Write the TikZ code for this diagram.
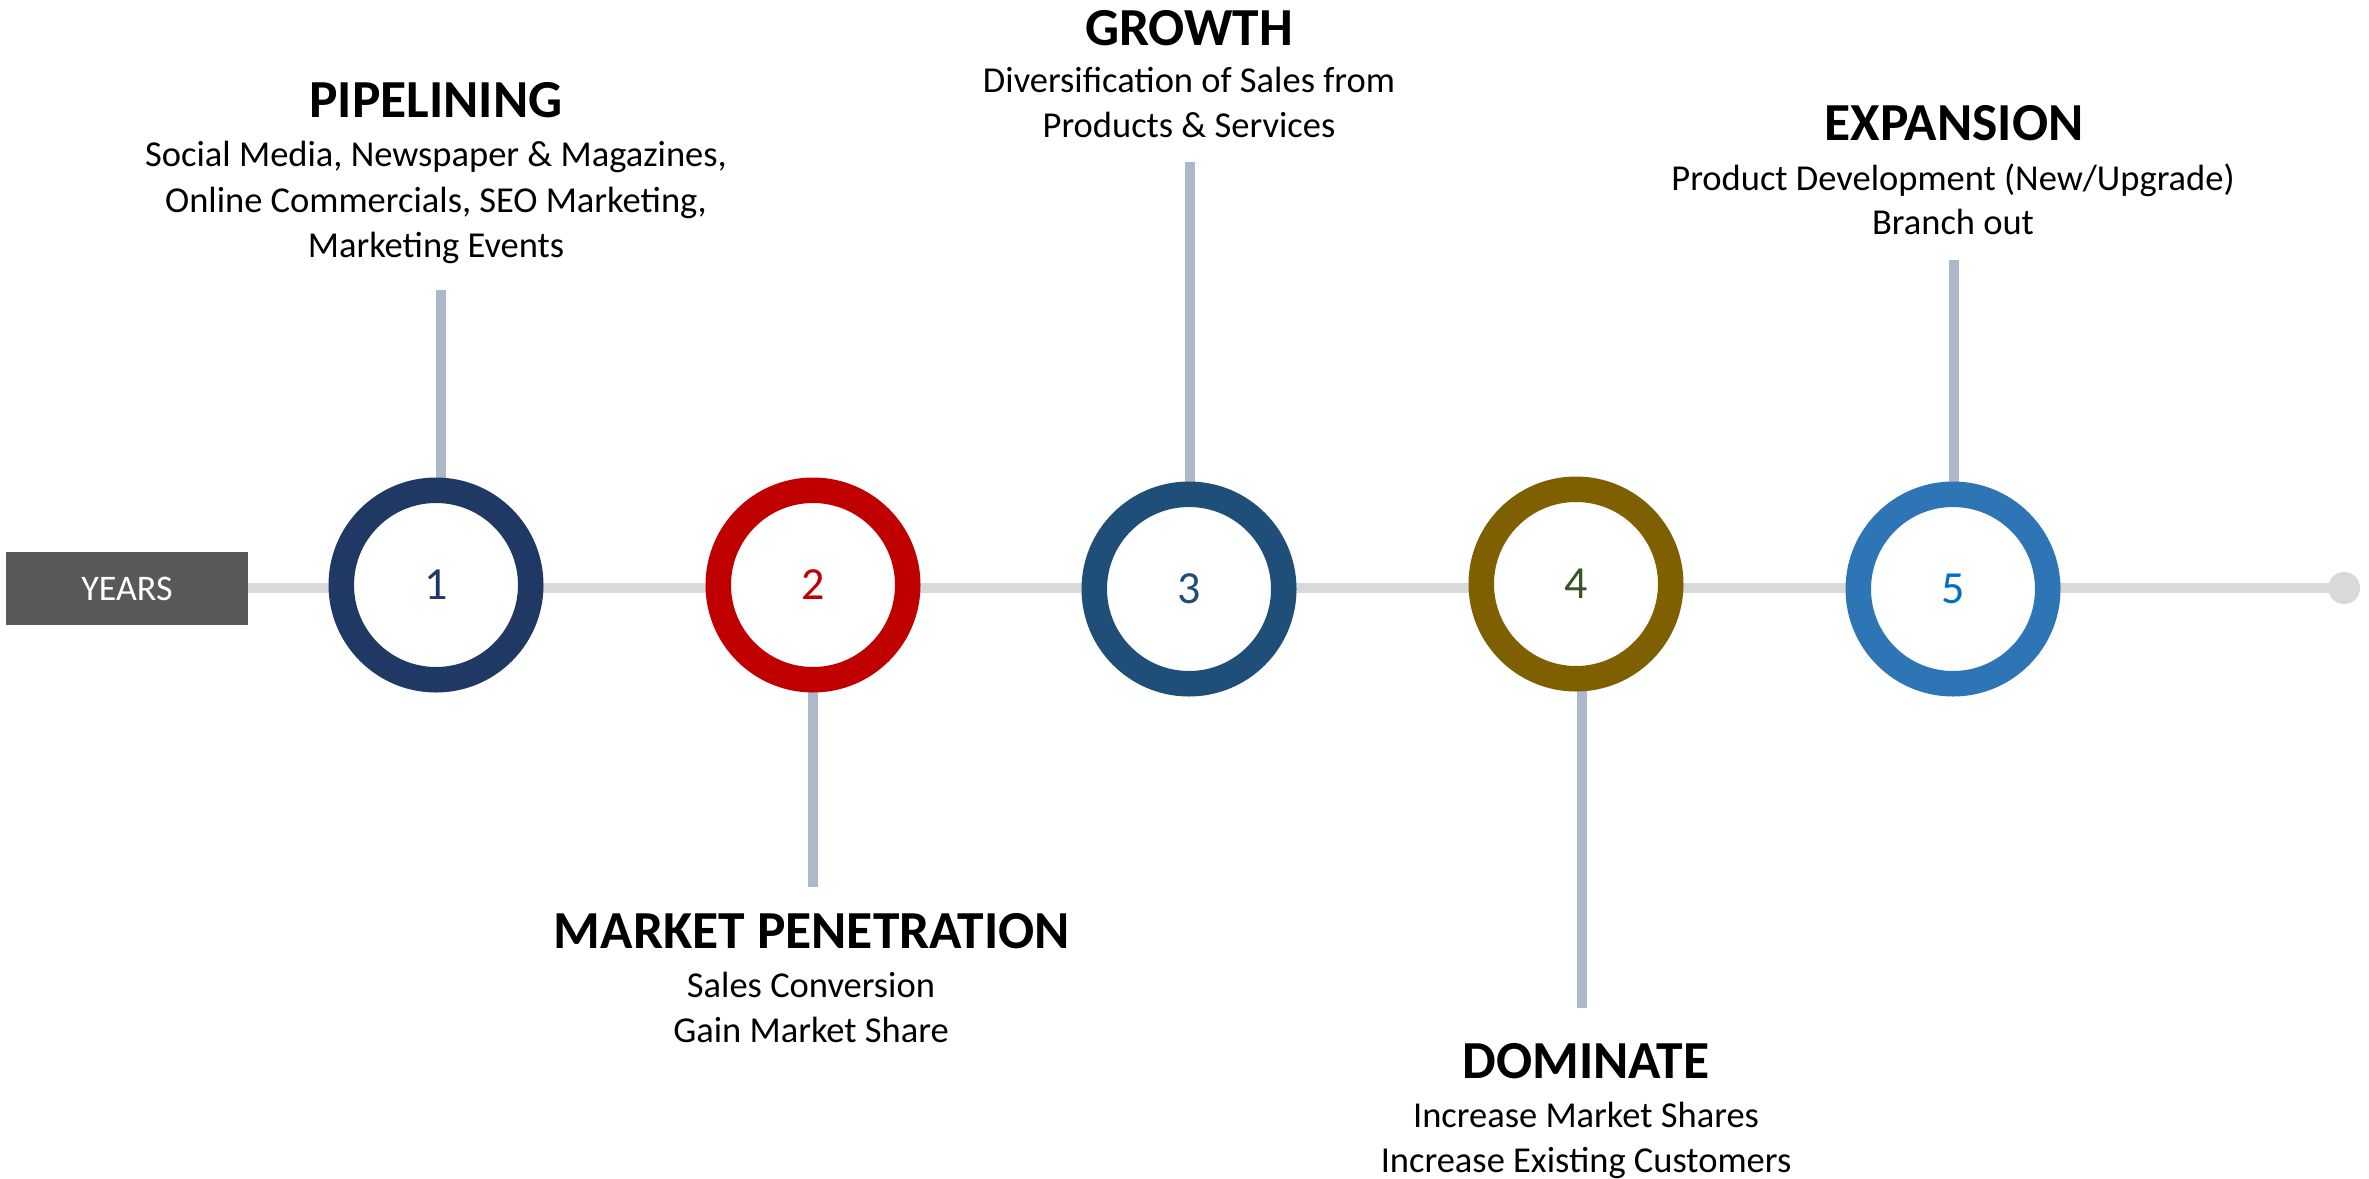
\documentclass[tikz,border=0pt]{standalone}
\usepackage{fontspec}
\setmainfont{Carlito}
\definecolor{cA}{HTML}{203864}
\definecolor{cB}{HTML}{C00000}
\definecolor{cC}{HTML}{1F4E79}
\definecolor{cD}{HTML}{7F6000}
\definecolor{cE}{HTML}{2E75B6}
\definecolor{nA}{HTML}{203864}
\definecolor{nB}{HTML}{C00000}
\definecolor{nC}{HTML}{1F4E79}
\definecolor{nD}{HTML}{375623}
\definecolor{nE}{HTML}{0070C0}
\definecolor{linegray}{HTML}{D9D9D9}
\definecolor{conncol}{HTML}{ADB9CA}
\definecolor{boxgray}{HTML}{595959}
\tikzset{
  ring/.style={circle, draw=#1, line width=25.5pt, fill=white, minimum size=189.5pt, inner sep=0pt},
  num/.style={font=\fontsize{46}{50}\selectfont},
  conn/.style={draw=conncol, line width=10pt},
  title/.style={anchor=base, inner sep=0pt, font=\fontsize{53.5}{60}\selectfont\bfseries},
  body/.style={anchor=base, inner sep=0pt, font=\fontsize{36.5}{45}\selectfont},
}
\begin{document}
\begin{tikzpicture}[x=1pt,y=-1pt]
\useasboundingbox[fill=white] (0,0) rectangle (2369,1178);
% years box
\node[fill=boxgray, text=white, minimum width=242pt, minimum height=73pt, inner sep=0pt,
      font=\fontsize{36}{40}\selectfont] (years) at (127,588.5) {YEARS};
\node[circle, fill=linegray, minimum size=32pt, inner sep=0pt] (enddot) at (2344,588) {};
% main line
\draw[draw=linegray, line width=10pt] (years.east |- 0,588) -- (enddot.center);
% connector ends
\coordinate (t1) at (441,290);
\coordinate (t2) at (813,887);
\coordinate (t3) at (1190,162);
\coordinate (t4) at (1582,1008);
\coordinate (t5) at (1954,260);
\draw[conn] (t1) -- (441,585);
\draw[conn] (t2) -- (813,585);
\draw[conn] (t3) -- (1190,589);
\draw[conn] (t4) -- (1582,584);
\draw[conn] (t5) -- (1954,589);
% rings
\node[ring=cA, num, text=nA] (c1) at (436,585) {1};
\node[ring=cB, num, text=nB] (c2) at (813,585) {2};
\node[ring=cC, num, text=nC] (c3) at (1189,589) {3};
\node[ring=cD, num, text=nD] (c4) at (1576,584) {4};
\node[ring=cE, num, text=nE] (c5) at (1953,589) {5};
% texts
\node[title] (h1) at (436,117) {PIPELINING};
\node[body] (b1a) at (436,166) {Social Media, Newspaper \& Magazines,};
\node[body] (b1b) at (436,212) {Online Commercials, SEO Marketing,};
\node[body] (b1c) at (436,257) {Marketing Events};
\node[title] (h2) at (812,948) {MARKET PENETRATION};
\node[body] (b2a) at (811,997) {Sales Conversion};
\node[body] (b2b) at (811,1042) {Gain Market Share};
\node[title] (h3) at (1189,45) {GROWTH};
\node[body] (b3a) at (1189,92) {Diversification of Sales from};
\node[body] (b3b) at (1189,137) {Products \& Services};
\node[title] (h4) at (1586,1078) {DOMINATE};
\node[body] (b4a) at (1586,1127) {Increase Market Shares};
\node[body] (b4b) at (1586,1172) {Increase Existing Customers};
\node[title] (h5) at (1954,140) {EXPANSION};
\node[body] (b5a) at (1953,190) {Product Development (New/Upgrade)};
\node[body] (b5b) at (1953,234) {Branch out};
\end{tikzpicture}
\end{document}
